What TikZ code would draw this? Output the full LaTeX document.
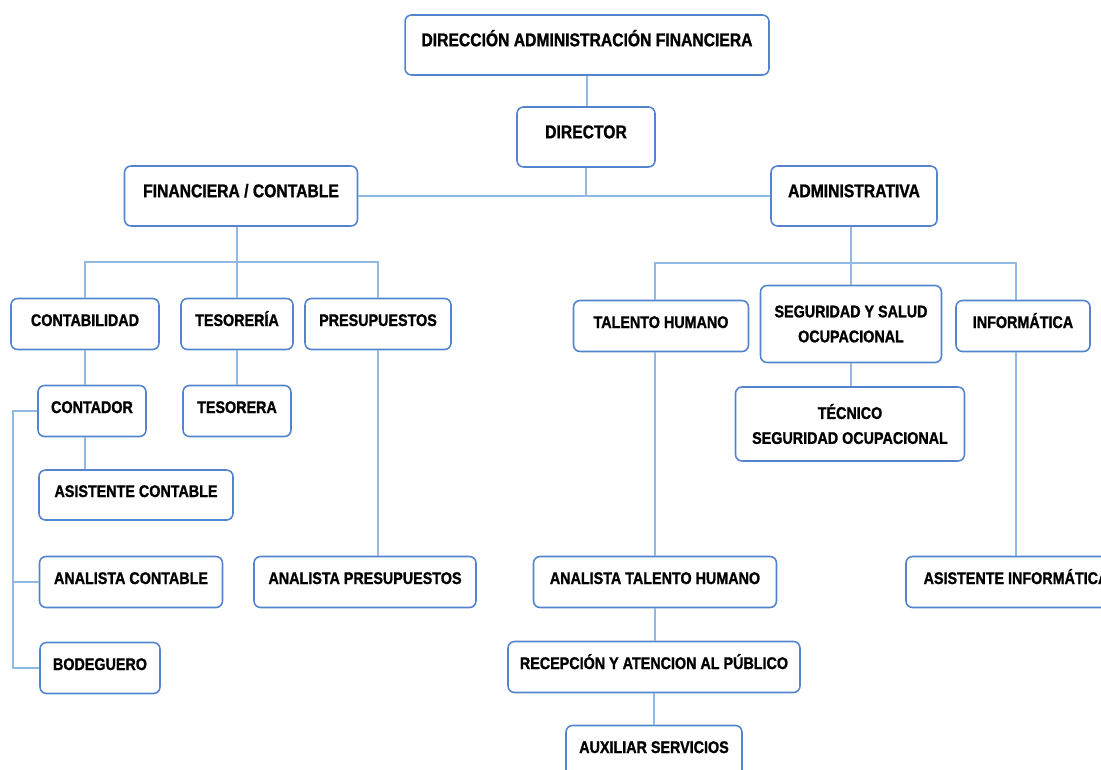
\documentclass[tikz,border=0pt]{standalone}
\usepackage{fontspec}
\setmainfont{Liberation Sans}[FakeStretch=0.85, FakeBold=1.2]
\usetikzlibrary{positioning}
\definecolor{boxblue}{RGB}{84,132,206}
\definecolor{wireblue}{RGB}{146,184,228}
\tikzset{
  unit/.style   = {draw=boxblue, line width=0.9pt, rounded corners=0.13cm, align=center,
                   inner sep=0pt, fill=white, font=\fontsize{9.6}{14.2}\selectfont\bfseries},
  single/.style = {unit, text height=0.25cm, text depth=0.17cm},
  head/.style   = {single, font=\fontsize{10.5}{14.2}\selectfont\bfseries, text depth=0.2cm},
  size/.style 2 args = {minimum width=#1cm, minimum height=#2cm},
  wire/.style   = {draw=wireblue, line width=0.9pt},
}

\begin{document}
\begin{tikzpicture}[x=0.02cm, y=-0.02cm]
  \useasboundingbox (0,0) rectangle (1101,770);
  % top
  \node[head, size={7.28}{1.2}] (dir) at (587,45) {DIRECCIÓN ADMINISTRACIÓN FINANCIERA};
  \node[head, size={2.76}{1.2}] (director) at (586,137) {DIRECTOR};
  \node[head, size={4.66}{1.2}] (fin) at (241,196) {FINANCIERA / CONTABLE};
  \node[head, size={3.32}{1.2}] (adm) at (854,196) {ADMINISTRATIVA};
  % financiera / contable
  \node[single, size={2.96}{1.02}] (conta) at (85,324) {CONTABILIDAD};
  \node[single, size={2.24}{1.02}] (tes) at (237,324) {TESORERÍA};
  \node[single, size={2.92}{1.02}] (pres) at (378,324) {PRESUPUESTOS};
  \node[single, size={2.16}{1.02}] (contador) at (92,411) {CONTADOR};
  \node[single, size={2.16}{1.02}] (tesorera) at (237,411) {TESORERA};
  \node[single, size={3.88}{1.0}] (asist) at (136,495) {ASISTENTE CONTABLE};
  \node[single, size={3.66}{1.02}] (analc) at (131,582) {ANALISTA CONTABLE};
  \node[single, size={4.44}{1.02}] (analp) at (365,582) {ANALISTA PRESUPUESTOS};
  \node[single, size={2.40}{1.02}] (bodeg) at (100,668) {BODEGUERO};
  % administrativa
  \node[single, size={3.50}{1.02}] (talento) at (661,326) {TALENTO HUMANO};
  \node[unit, size={3.62}{1.54}] (seg) at (851,324) {SEGURIDAD Y SALUD\\OCUPACIONAL};
  \node[single, size={2.68}{1.02}] (inf) at (1023,326) {INFORMÁTICA};
  \node[unit, size={4.58}{1.48}] (tec) at (850,424) {TÉCNICO\\SEGURIDAD OCUPACIONAL};
  \node[single, size={4.86}{1.02}] (anath) at (655,582) {ANALISTA TALENTO HUMANO};
  \node[single, size={4.40}{1.02}] (asistinf) at (1016,582) {ASISTENTE INFORMÁTICA};
  \node[single, size={5.84}{1.02}] (recep) at (654,667) {RECEPCIÓN Y ATENCION AL PÚBLICO};
  \node[single, size={3.52}{1.02}] (aux) at (654,751) {AUXILIAR SERVICIOS};
  \coordinate (finbus) at (0,262);
  \coordinate (admbus) at (0,263);
  \coordinate (lbus) at (13,0);
  % connectors
  \draw[wire] (dir.south) -- (dir.south |- director.north);
  \draw[wire] (director.south) -- (director.south |- fin.east);
  \draw[wire] (fin.east) -- (adm.west);
  \draw[wire] (tes.north) -- (tes.north |- fin.south);
  \draw[wire] (conta.north) -- (conta.north |- finbus) -- (pres.north |- finbus) -- (pres.north);
  \draw[wire] (tes.south) -- (tesorera.north);
  \draw[wire] (conta.south) -- (conta.south |- contador.north);
  \draw[wire] (contador.south -| conta.south) -- (asist.north -| conta.south);
  \draw[wire] (contador.west) -- (contador.west -| lbus) -- (bodeg.west -| lbus) -- (bodeg.west);
  \draw[wire] (analc.west -| lbus) -- (analc.west);
  \draw[wire] (pres.south) -- (pres.south |- analp.north);
  \draw[wire] (seg.north) -- (seg.north |- adm.south);
  \draw[wire] (anath.north |- talento.north) -- (anath.north |- admbus) -- (asistinf.north |- admbus) -- (asistinf.north |- inf.north);
  \draw[wire] (anath.north) -- (anath.north |- talento.south);
  \draw[wire] (asistinf.north) -- (asistinf.north |- inf.south);
  \draw[wire] (seg.south) -- (seg.south |- tec.north);
  \draw[wire] (anath.south) -- (anath.south |- recep.north);
  \draw[wire] (recep.south) -- (recep.south |- aux.north);
\end{tikzpicture}
\end{document}
